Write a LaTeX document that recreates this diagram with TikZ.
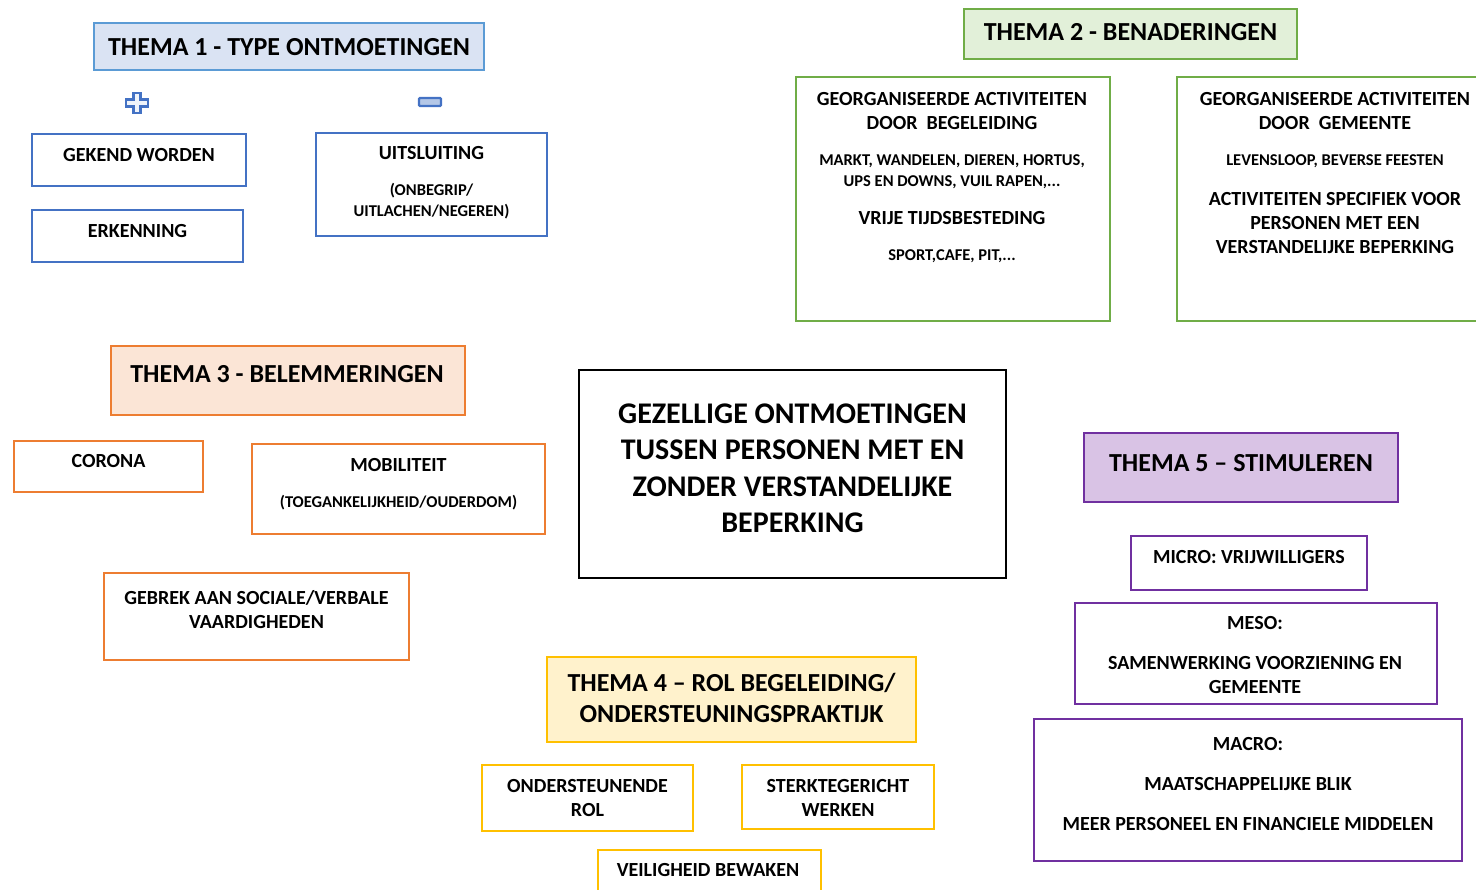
\documentclass[tikz,border=0pt]{standalone}
\usepackage{fontspec}
\setmainfont{Carlito}
\usetikzlibrary{positioning}
\definecolor{blueln}{HTML}{4472C4}
\definecolor{bluehd}{HTML}{5B9BD5}
\definecolor{bluebg}{HTML}{DAE3F3}
\definecolor{blueic}{HTML}{B4C7E7}
\definecolor{greenln}{HTML}{70AD47}
\definecolor{greenbg}{HTML}{E2F0D9}
\definecolor{orangeln}{HTML}{ED7D31}
\definecolor{orangebg}{HTML}{FBE5D6}
\definecolor{yellowln}{HTML}{FFC000}
\definecolor{yellowbg}{HTML}{FFF2CC}
\definecolor{purpleln}{HTML}{7030A0}
\definecolor{purplebg}{HTML}{D9C3E5}
\begin{document}
\begin{tikzpicture}[x=1pt, y=-1pt,
  bx/.style={draw=#1, line width=1.8pt, inner sep=0pt},
  hd/.style={font=\fontsize{26}{31}\selectfont\bfseries, align=center, inner sep=0pt},
  tx/.style={font=\fontsize{20}{24}\selectfont\bfseries, align=center, inner sep=0pt},
  sm/.style={font=\fontsize{16.5}{21}\selectfont\bfseries, align=center, inner sep=0pt}]
\useasboundingbox (0,0) rectangle (1476,890);
\node[bx=bluehd, fill=bluebg, minimum width=390, minimum height=47] (th1) at (289,46.5) {};
\node[hd] (th1t) at (289,47) {THEMA 1 - TYPE ONTMOETINGEN};
\draw[blueln, line width=2.2pt, fill=bluebg!40] (133.5,93) -- (140.5,93) -- (140.5,99.5) -- (148,99.5) -- (148,106.5) -- (140.5,106.5) -- (140.5,113) -- (133.5,113) -- (133.5,106.5) -- (126,106.5) -- (126,99.5) -- (133.5,99.5) -- cycle;
\draw[blueln, line width=2.2pt, fill=blueic, rounded corners=1pt] (419,98) rectangle (441,106);
\node[bx=blueln, minimum width=214, minimum height=52] (gekend) at (139,160) {};
\node[tx] (gekendt) at (139,155) {GEKEND WORDEN};
\node[bx=blueln, minimum width=211, minimum height=52] (erk) at (137.5,236) {};
\node[tx] (erkt) at (137.5,231) {ERKENNING};
\node[bx=blueln, minimum width=231, minimum height=103] (uit) at (431.5,184.5) {};
\node[tx] (uitt) at (431.5,153) {UITSLUITING};
\node[sm] (uits) at (431.5,201.5) {(ONBEGRIP/\\UITLACHEN/NEGEREN)};
\node[bx=greenln, fill=greenbg, minimum width=333, minimum height=50] (th2) at (1130.5,34) {};
\node[hd] (th2t) at (1130.5,32) {THEMA 2 - BENADERINGEN};
\node[bx=greenln, minimum width=314, minimum height=244] (begel) at (953,199) {};
\node[tx] (begelt) at (952,111) {GEORGANISEERDE ACTIVITEITEN\\DOOR\ \ BEGELEIDING};
\node[sm] (begels) at (952,171.5) {MARKT, WANDELEN, DIEREN, HORTUS,\\UPS EN DOWNS, VUIL RAPEN,...};
\node[tx] (vrij) at (952,218) {VRIJE TIJDSBESTEDING};
\node[sm] (vrijs) at (952,256) {SPORT,CAFE, PIT,...};
\node[bx=greenln, minimum width=316, minimum height=244] (gem) at (1335,199) {};
\node[tx] (gemt) at (1335,111) {GEORGANISEERDE ACTIVITEITEN\\DOOR\ \ GEMEENTE};
\node[sm] (gems) at (1335,161) {LEVENSLOOP, BEVERSE FEESTEN};
\node[tx] (spec) at (1335,223) {ACTIVITEITEN SPECIFIEK VOOR\\PERSONEN MET EEN\\VERSTANDELIJKE BEPERKING};
\node[bx=orangeln, fill=orangebg, minimum width=354, minimum height=69] (th3) at (288,380.5) {};
\node[hd] (th3t) at (287,374) {THEMA 3 - BELEMMERINGEN};
\node[bx=orangeln, minimum width=189, minimum height=51] (corona) at (108.5,466.5) {};
\node[tx] (coronat) at (108.5,461) {CORONA};
\node[bx=orangeln, minimum width=293, minimum height=90] (mobi) at (398.5,489) {};
\node[tx] (mobit) at (398.5,465) {MOBILITEIT};
\node[sm] (mobis) at (398.5,503) {(TOEGANKELIJKHEID/OUDERDOM)};
\node[bx=orangeln, minimum width=305, minimum height=87] (gebrek) at (256.5,616.5) {};
\node[tx] (gebrekt) at (256.5,610) {GEBREK AAN SOCIALE/VERBALE\\VAARDIGHEDEN};
\node[bx=black, minimum width=427, minimum height=208] (centr) at (792.5,474) {};
\node[font=\fontsize{30}{36.5}\selectfont\bfseries, align=center, inner sep=0pt] (centrt) at (792.5,468.5) {GEZELLIGE ONTMOETINGEN\\TUSSEN PERSONEN MET EN\\ZONDER VERSTANDELIJKE\\BEPERKING};
\node[bx=yellowln, fill=yellowbg, minimum width=369, minimum height=85] (th4) at (731.5,699.5) {};
\node[hd] (th4t) at (731.5,697.5) {THEMA 4 – ROL BEGELEIDING/\\ONDERSTEUNINGSPRAKTIJK};
\node[bx=yellowln, minimum width=211, minimum height=66] (onder) at (587.5,798) {};
\node[tx] (ondert) at (587.5,798) {ONDERSTEUNENDE\\ROL};
\node[bx=yellowln, minimum width=192, minimum height=64] (sterk) at (838,797) {};
\node[tx] (sterkt) at (838,798) {STERKTEGERICHT\\WERKEN};
\node[bx=yellowln, minimum width=223, minimum height=60] (veil) at (709.5,880) {};
\node[tx] (veilt) at (708,870) {VEILIGHEID BEWAKEN};
\node[bx=purpleln, fill=purplebg, minimum width=314, minimum height=69] (th5) at (1241,467.5) {};
\node[hd] (th5t) at (1241,463) {THEMA 5 – STIMULEREN};
\node[bx=purpleln, minimum width=236, minimum height=54] (micro) at (1249,563) {};
\node[tx] (microt) at (1249,557) {MICRO: VRIJWILLIGERS};
\node[bx=purpleln, minimum width=362, minimum height=101] (meso) at (1256,653.5) {};
\node[tx] (mesot) at (1255,655) {MESO:\\[16pt]SAMENWERKING VOORZIENING EN\\GEMEENTE};
\node[bx=purpleln, minimum width=428, minimum height=142] (macro) at (1248,790) {};
\node[tx] (macrot) at (1248,784) {MACRO:\\[16pt]MAATSCHAPPELIJKE BLIK\\[16pt]MEER PERSONEEL EN FINANCIELE MIDDELEN};
\end{tikzpicture}
\end{document}
